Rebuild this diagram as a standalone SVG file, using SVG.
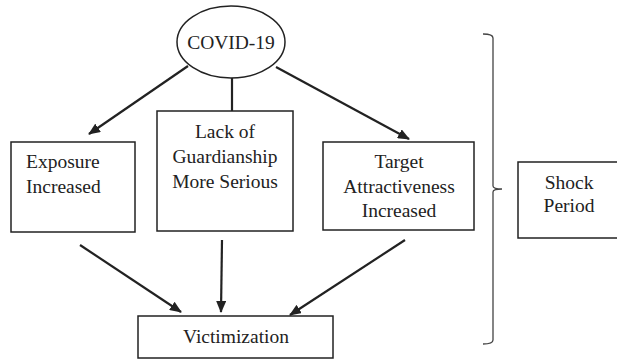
<svg xmlns="http://www.w3.org/2000/svg" width="617" height="359" viewBox="0 0 617 359">
<style>
.box{fill:#fff;stroke:#222;stroke-width:1.5}
.ln{stroke:#222;stroke-width:2.2;fill:none}
text{font-family:'Liberation Serif','Times New Roman',serif;font-size:19.5px;fill:#222}
.c{text-anchor:middle}
</style>
<defs>
<marker id="ah" markerWidth="12" markerHeight="10" refX="11" refY="5" orient="auto" markerUnits="userSpaceOnUse">
<path d="M0,0 L12,5 L0,10 z" fill="#222"/>
</marker>
</defs>
<rect width="617" height="359" fill="#fff"/>
<g id="connectors">
<line class="ln" x1="188" y1="66" x2="89" y2="134" marker-end="url(#ah)"/>
<line class="ln" x1="232" y1="78" x2="232" y2="111"/>
<line class="ln" x1="276" y1="67" x2="409" y2="139" marker-end="url(#ah)"/>
<line class="ln" x1="80" y1="245" x2="181" y2="312" marker-end="url(#ah)"/>
<line class="ln" x1="222" y1="240" x2="221" y2="312" marker-end="url(#ah)"/>
<line class="ln" x1="405" y1="240" x2="290" y2="315" marker-end="url(#ah)"/>
</g>
<g id="covid">
<ellipse class="box" cx="231" cy="42" rx="54" ry="36"/>
<text class="c" x="231" y="49">COVID-19</text>
</g>
<g id="exposure">
<rect class="box" x="11" y="142" width="124" height="90"/>
<text x="26" y="168">Exposure</text>
<text x="26" y="193">Increased</text>
</g>
<g id="guardianship">
<rect class="box" x="157" y="111" width="136" height="120"/>
<text class="c" x="225" y="138">Lack of</text>
<text class="c" x="225" y="163">Guardianship</text>
<text class="c" x="225" y="188">More Serious</text>
</g>
<g id="target">
<rect class="box" x="323" y="142" width="151" height="88"/>
<text class="c" x="399" y="168">Target</text>
<text class="c" x="399" y="193">Attractiveness</text>
<text class="c" x="399" y="217">Increased</text>
</g>
<g id="victimization">
<rect class="box" x="138" y="316" width="195" height="42"/>
<text class="c" x="236" y="343">Victimization</text>
</g>
<g id="bracket">
<path d="M483,34 Q493,34 493,38 L493,186 Q493,189 502,189 Q493,189 493,192 L493,340 Q493,344 483,344" fill="none" stroke="#444" stroke-width="1.3"/>
</g>
<g id="shock">
<rect class="box" x="518" y="162" width="104" height="76"/>
<text class="c" x="569" y="189">Shock</text>
<text class="c" x="569" y="212">Period</text>
</g>
</svg>
